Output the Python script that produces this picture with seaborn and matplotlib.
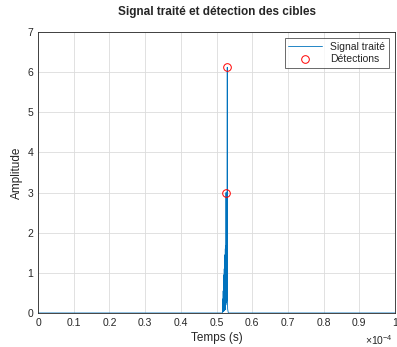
import seaborn as sns
import matplotlib
matplotlib.use("Agg")
import matplotlib.pyplot as plt
from matplotlib.ticker import FuncFormatter

# time values in units of 1e-4 s
time_scaled = [0.0, 0.2, 0.4, 0.5, 0.5160, 0.5170, 0.5175, 0.5180, 0.5185, 0.5190,
               0.5195, 0.5200, 0.5205, 0.5210, 0.5215, 0.5220, 0.5225, 0.5230,
               0.5235, 0.5240, 0.5245, 0.5250, 0.5255, 0.5260, 0.5265, 0.5270,
               0.5280, 0.5290, 0.5300, 0.5305, 0.5310, 0.5320, 0.5330, 0.5350,
               0.6, 0.8, 1.0]
amplitude = [0.0, 0.0, 0.0, 0.0, 0.0, 0.02, 0.35, 0.03, 0.55, 0.05,
             0.75, 0.04, 0.95, 0.08, 1.1, 0.06, 1.3, 0.1, 1.45, 0.08,
             1.6, 0.15, 1.68, 0.2, 3.0, 0.25, 2.2, 0.3, 6.12, 0.4,
             0.1, 0.05, 0.0, 0.0, 0.0, 0.0, 0.0]
det_time_scaled = [0.5265, 0.5300]
det_amplitude = [3.0, 6.12]

t = [v * 1e-4 for v in time_scaled]
td = [v * 1e-4 for v in det_time_scaled]

sns.set_style("white")
plt.rcParams["font.family"] = ["Liberation Sans", "DejaVu Sans"]
plt.rcParams["mathtext.fontset"] = "custom"
plt.rcParams["mathtext.rm"] = "Liberation Sans"

fig = plt.figure(figsize=(3.97, 3.47), dpi=100)
ax = fig.add_axes([0.096, 0.098, 0.899, 0.810])

sns.lineplot(x=t, y=amplitude, ax=ax, color="#0072BD", linewidth=0.6,
             sort=False, estimator=None, label="Signal traité")
ax.plot(td, det_amplitude, linestyle="none", marker="o", markersize=5.5,
        markerfacecolor="none", markeredgecolor="#FF0000", markeredgewidth=0.7,
        label="Détections")

ax.set_xlim(0, 1e-4)
ax.set_ylim(0, 7)
ax.set_xticks([i * 1e-5 for i in range(11)])
ax.set_yticks(range(8))
ax.xaxis.set_major_formatter(FuncFormatter(lambda v, p: "%g" % round(v * 1e4, 2)))
ax.tick_params(labelsize=7.5, colors="#262626", length=2, direction="in", width=0.5)
ax.grid(True, color="#dcdcdc", linewidth=0.6)
for s in ax.spines.values():
    s.set_color("#262626")
    s.set_linewidth(0.6)

ax.set_title("Signal traité et détection des cibles", fontsize=8.5, fontweight="bold", pad=12)
ax.set_xlabel("Temps (s)", fontsize=8.5, color="#262626", labelpad=3)
ax.set_ylabel("Amplitude", fontsize=8.5, color="#262626", labelpad=3)
ax.text(0.993, -0.095, r"$\times 10^{-4}$", transform=ax.transAxes, ha="right", va="center",
        fontsize=7.5, color="#262626")

leg = ax.legend(loc="upper right", fontsize=7.5, frameon=True, fancybox=False,
                edgecolor="#262626", borderpad=0.35, handlelength=3.2, labelspacing=0.25,
                borderaxespad=0.6)
leg.get_frame().set_linewidth(0.6)

plt.savefig("out.png", dpi=100)
